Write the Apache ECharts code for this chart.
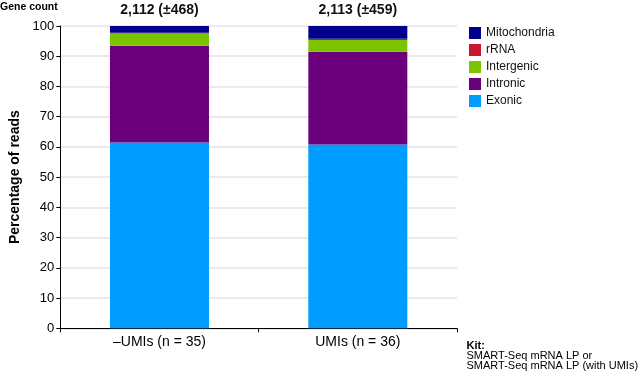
<!DOCTYPE html>
<html><head><meta charset="utf-8">
<script src="https://cdn.jsdelivr.net/npm/echarts@6/dist/echarts.min.js"></script>
<style>html,body{margin:0;padding:0;background:#fff}#c{width:644px;height:376px}</style>
</head><body><div id="c"></div>
<script>
const categories = ['\u2013UMIs (n = 35)', 'UMIs (n = 36)'];
const geneCount = ['2,112 (\u00b1468)', '2,113 (\u00b1459)'];
const exonic = [61.5, 60.8];
const intronic = [32.0, 30.7];
const intergenic = [4.0, 3.9];
const rRNA = [0.3, 0.4];
const mitochondria = [2.2, 4.2];
const yTicks = [0, 10, 20, 30, 40, 50, 60, 70, 80, 90, 100];

const FONT = 'Liberation Sans, Arial, sans-serif';
const chart = echarts.init(document.getElementById('c'), null, {renderer: 'canvas'});
function s(name, data, color, extra) {
  return Object.assign({name, type: 'bar', stack: 'a', data, barWidth: 99,
    itemStyle: {color}, emphasis: {disabled: true}}, extra || {});
}
chart.setOption({
  animation: false,
  textStyle: {fontFamily: FONT},
  grid: {left: 60.3, right: 187, top: 26, bottom: 47.7, containLabel: false, outerBoundsMode: 'none'},
  legend: {
    orient: 'vertical', left: 469, top: 27, padding: 0, itemWidth: 12, itemHeight: 12, itemGap: 5,
    icon: 'rect',
    data: ['Mitochondria', 'rRNA', 'Intergenic', 'Intronic', 'Exonic'],
    textStyle: {fontSize: 12, lineHeight: 12, color: '#111', fontFamily: FONT},
    itemStyle: {borderWidth: 0}
  },
  xAxis: {
    type: 'category', data: categories,
    axisLine: {lineStyle: {color: '#000', width: 1}},
    axisTick: {show: true, length: 4, lineStyle: {color: '#000'}},
    axisLabel: {fontSize: 14, color: '#000', margin: 7, fontFamily: FONT}
  },
  yAxis: {
    type: 'value', min: 0, max: 100, interval: 10,
    name: 'Percentage of reads', nameLocation: 'middle', nameGap: 38,
    nameTextStyle: {fontSize: 14, fontWeight: 'bold', color: '#000', fontFamily: FONT},
    axisLine: {show: true, lineStyle: {color: '#000', width: 1}},
    axisTick: {show: true, length: 4, lineStyle: {color: '#000'}},
    axisLabel: {fontSize: 13, color: '#000', margin: 6, fontFamily: FONT,
      formatter: v => yTicks.includes(v) ? String(v) : ''},
    splitLine: {show: true, lineStyle: {color: '#e3e3e3', width: 1.5}}
  },
  series: [
    s('Exonic', exonic, '#009cff'),
    s('Intronic', intronic, '#6b007d'),
    s('Intergenic', intergenic, '#7dc400'),
    s('rRNA', rRNA, '#cc1433'),
    s('Mitochondria', mitochondria, '#00008c', {
      label: {show: true, position: 'top', distance: 9, fontSize: 14, fontWeight: 'bold',
        color: '#111', fontFamily: FONT, formatter: p => geneCount[p.dataIndex]}
    })
  ],
  graphic: [
    {type: 'text', left: 0, top: 2, style: {text: 'Gene count', font: 'bold 10.5px ' + FONT, fill: '#000'}},
    {type: 'text', left: 466.5, top: 340, style: {text: 'Kit:', font: 'bold 11px ' + FONT, fill: '#000'}},
    {type: 'text', left: 466.5, top: 350.5, style: {text: 'SMART-Seq mRNA LP or', font: '11px ' + FONT, fill: '#000'}},
    {type: 'text', left: 466.5, top: 360.5, style: {text: 'SMART-Seq mRNA LP (with UMIs)', font: '11px ' + FONT, fill: '#000'}}
  ]
});
</script></body></html>
